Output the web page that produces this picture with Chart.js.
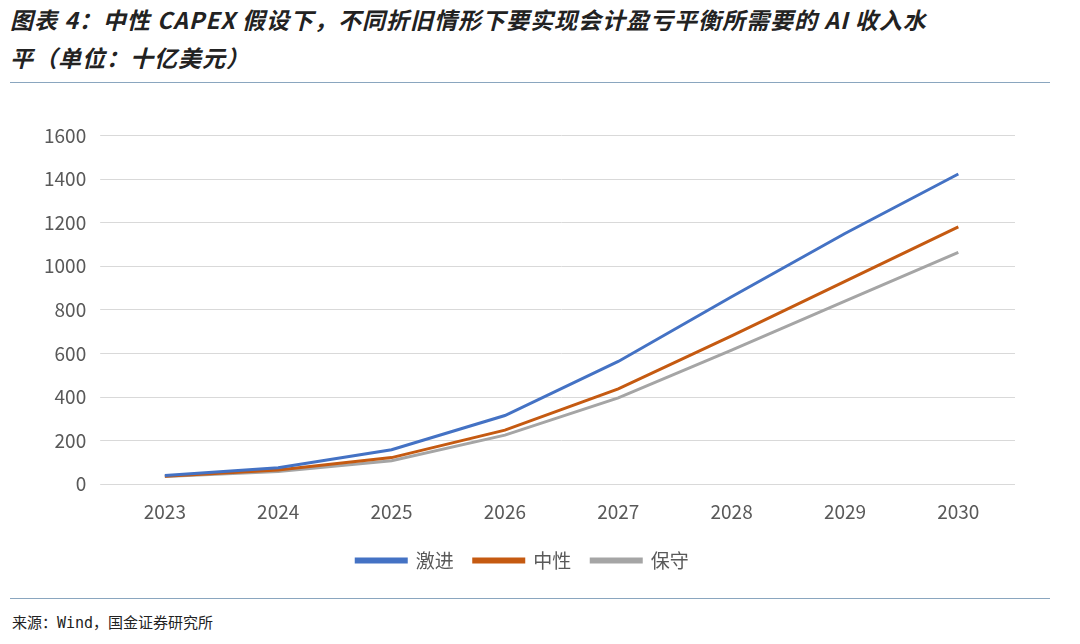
<!DOCTYPE html>
<html><head><meta charset="utf-8">
<script src="https://cdn.jsdelivr.net/npm/chart.js@4"></script>
<style>
body{margin:0;width:1080px;height:644px;background:#fff;font-family:"Noto Sans CJK SC",sans-serif;position:relative;overflow:hidden}
#title{position:absolute;left:10px;top:0px;width:1060px;font-size:23px;font-weight:bold;font-style:italic;line-height:38px;color:#222;letter-spacing:1px}
#rule1{position:absolute;left:10px;top:82px;width:1040px;border-top:1px solid #8aa6bf}
#rule2{position:absolute;left:10px;top:598px;width:1040px;border-top:1px solid #8aa6bf}
#src{position:absolute;left:12px;top:611px;font-size:15px;color:#222;font-family:"DejaVu Sans Mono","Noto Sans CJK SC",monospace}
#wrap{position:absolute;left:30px;top:110px;width:985px;height:470px}
</style></head><body>
<div id="title">图表 4：中性 CAPEX 假设下，不同折旧情形下要实现会计盈亏平衡所需要的 AI 收入水<br>平（单位：十亿美元）</div>
<div id="rule1"></div>
<div id="wrap"><canvas id="c"></canvas></div>
<div id="rule2"></div>
<div id="src">来源：Wind，国金证券研究所</div>
<script>
const years = ['2023','2024','2025','2026','2027','2028','2029','2030'];
const aggressive = [40, 75, 158, 315, 563, 860, 1150, 1423];
const neutral = [37, 65, 122, 248, 437, 680, 930, 1180];
const conservative = [35, 58, 108, 225, 396, 615, 840, 1063];

new Chart(document.getElementById('c'), {
  type: 'line',
  data: {
    labels: years,
    datasets: [
      {label: '激进', data: aggressive, borderColor: '#4472c4', backgroundColor: '#4472c4'},
      {label: '中性', data: neutral, borderColor: '#c55a11', backgroundColor: '#c55a11'},
      {label: '保守', data: conservative, borderColor: '#a5a5a5', backgroundColor: '#a5a5a5'}
    ]
  },
  options: {
    responsive: true, maintainAspectRatio: false, animation: false,
    elements: {line: {borderWidth: 3, tension: 0}, point: {radius: 0}},
    layout: {padding: {right: 0}},
    scales: {
      x: {offset: true, grid: {display: false}, border: {color: '#d9d9d9'},
          ticks: {color: '#595959', padding: 8, font: {size: 19, family: 'Noto Sans CJK SC'}}},
      y: {min: 0, max: 1600,
          ticks: {stepSize: 200, color: '#595959', padding: 14, font: {size: 19, family: 'Noto Sans CJK SC'}, callback: v => String(v)},
          grid: {color: '#d9d9d9'}, border: {display: false}}
    },
    plugins: {
      legend: {position: 'bottom', labels: {boxWidth: 50, boxHeight: 3, color: '#595959', font: {size: 19, family: 'Noto Sans CJK SC'}, padding: 20}},
      tooltip: {enabled: false}
    }
  }
});
</script>
</body></html>
